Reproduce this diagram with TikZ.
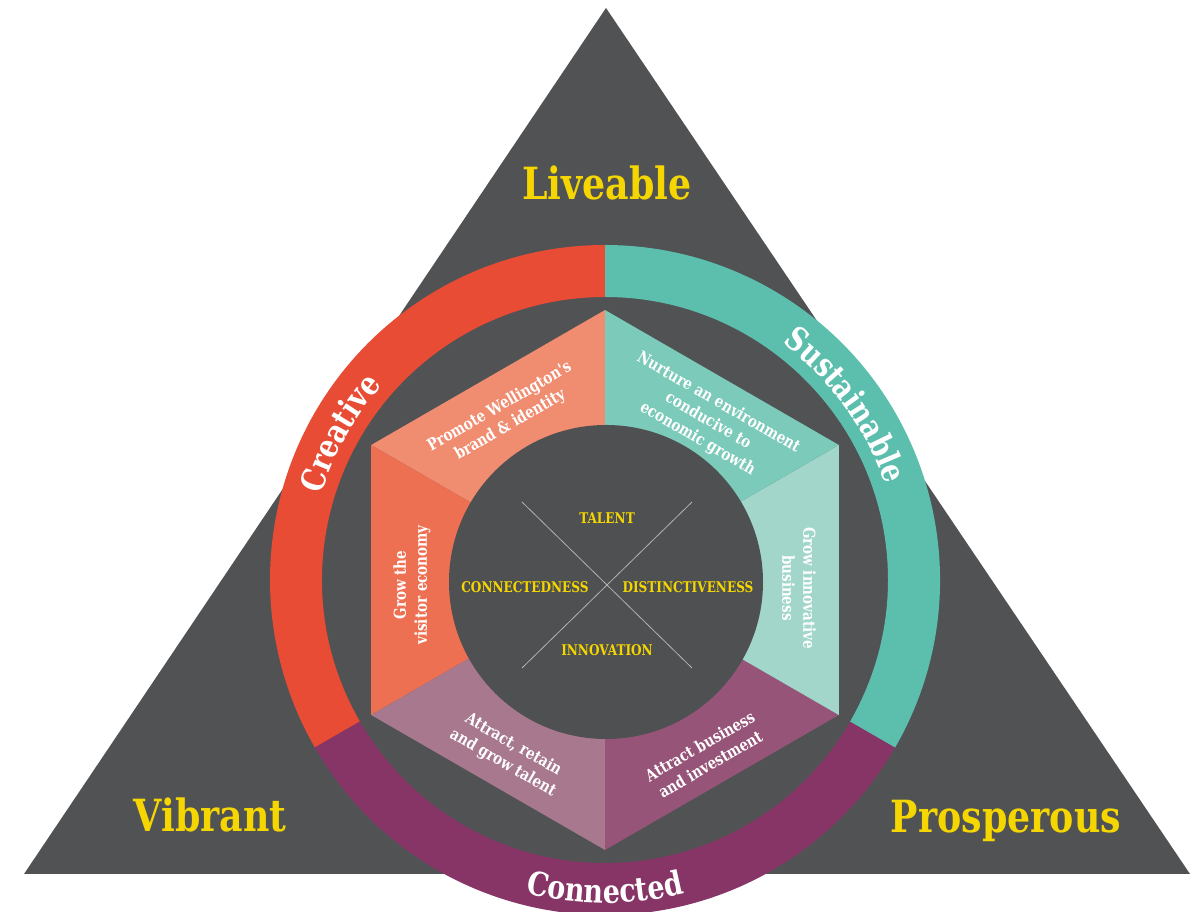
\documentclass[tikz,border=0pt]{standalone}
\usepackage{fontspec}
\newfontfamily\slab{DejaVu Serif}[FakeStretch=0.82]
\usepackage{tikz}
\usetikzlibrary{positioning,decorations.text}
\usepackage{xcolor}

\definecolor{slate}{RGB}{80,82,84}
\definecolor{hubgray}{RGB}{78,80,82}
\definecolor{wellyellow}{RGB}{245,214,0}
\definecolor{creativered}{RGB}{232,76,52}
\definecolor{sustainteal}{RGB}{92,190,172}
\definecolor{connectplum}{RGB}{135,52,102}
\definecolor{promotefill}{RGB}{240,140,112}
\definecolor{visitorfill}{RGB}{238,112,82}
\definecolor{talentfill}{RGB}{168,120,142}
\definecolor{businessfill}{RGB}{150,84,120}
\definecolor{innovfill}{RGB}{162,214,203}
\definecolor{nurturefill}{RGB}{124,202,186}

\newcommand{\ringfont}{\slab\bfseries\fontsize{33}{33}\selectfont}

\tikzset{
  pillar/.style={
    font=\slab\bfseries\fontsize{44.5}{48}\selectfont,
    text=wellyellow,
    anchor=base,
    inner sep=0pt
  },
  goal/.style={
    font=\slab\bfseries\fontsize{16.5}{21}\selectfont,
    text=white,
    align=center,
    inner sep=0pt
  },
  value/.style={
    font=\slab\bfseries\fontsize{14.8}{16}\selectfont,
    text=wellyellow,
    inner sep=0pt
  },
  ringlabel/.style={
    decorate,
    decoration={text along path, text align=center, text color=white}
  },
  xline/.style={draw=gray!60, line width=0.8pt}
}

\begin{document}
\begin{tikzpicture}[x=1bp, y=1bp]
  \useasboundingbox (0,0) rectangle (1194,912);
  \fill[white] (0,0) rectangle (1194,912);

  % Outer triangle
  \coordinate (apex) at (606,904);
  \coordinate (baseL) at (24,38);
  \coordinate (baseR) at (1190,38);
  \fill[slate] (apex) -- (baseL) -- (baseR) -- cycle;

  \node[pillar] (liveable) at (607,712) {Liveable};
  \node[pillar] (vibrant) at (210,80) {Vibrant};
  \node[pillar] (prosperous) at (1006,79) {Prosperous};

  \begin{scope}[shift={(605,332)}]
    % Outer ring
    \fill[creativered] (90:335) arc[start angle=90, end angle=210, radius=335]
      -- (210:283) arc[start angle=210, end angle=90, radius=283] -- cycle;
    \fill[connectplum] (210:335) arc[start angle=210, end angle=330, radius=335]
      -- (330:283) arc[start angle=330, end angle=210, radius=283] -- cycle;
    \fill[sustainteal] (-30:335) arc[start angle=-30, end angle=90, radius=335]
      -- (90:283) arc[start angle=90, end angle=-30, radius=283] -- cycle;

    \path[ringlabel, decoration={text={|\ringfont|Creative}}]
      (178:296) arc[start angle=178, end angle=124, radius=296];
    \path[ringlabel, decoration={text={|\ringfont|Sustainable}}]
      (72:296) arc[start angle=72, end angle=0, radius=296];
    \path[ringlabel, decoration={text={|\ringfont|Connected}}]
      (240:323) arc[start angle=240, end angle=300, radius=323];

    % Hexagon
    \coordinate (hub) at (0,0);
    \coordinate (h30) at (30:270);
    \coordinate (h90) at (90:270);
    \coordinate (h150) at (150:270);
    \coordinate (h210) at (210:270);
    \coordinate (h270) at (270:270);
    \coordinate (h330) at (330:270);
    \fill[promotefill] (hub) -- (h90) -- (h150) -- cycle;
    \fill[visitorfill] (hub) -- (h150) -- (h210) -- cycle;
    \fill[talentfill] (hub) -- (h210) -- (h270) -- cycle;
    \fill[businessfill] (hub) -- (h270) -- (h330) -- cycle;
    \fill[innovfill] (hub) -- (h330) -- (h30) -- cycle;
    \fill[nurturefill] (hub) -- (h30) -- (h90) -- cycle;

    \node[goal, rotate=30] (promote) at (-100,164) {Promote Wellington's\\brand \& identity};
    \node[goal, rotate=-30] (nurture) at (103,159) {Nurture an environment\\conducive to\\economic growth};
    \node[goal, rotate=90] (visitor) at (-193,-5) {Grow the\\visitor economy};
    \node[goal, rotate=-90] (innovative) at (194,-8) {Grow innovative\\business};
    \node[goal, rotate=-30] (attracttalent) at (-97,-174) {Attract, retain\\and grow talent};
    \node[goal, rotate=30] (attractbusiness) at (100,-175) {Attract business\\and investment};

    % Core circle with the four values
    \node[circle, fill=hubgray, minimum size=314bp, inner sep=0pt] (core) at (1,-2) {};
    \coordinate (xa) at (-83,78);
    \coordinate (xb) at (87,-88);
    \coordinate (xc) at (87,78);
    \coordinate (xd) at (-83,-88);
    \draw[xline] (xa) -- (xb);
    \draw[xline] (xc) -- (xd);

    \node[value] (talent) at (2,62) {TALENT};
    \node[value] (connectedness) at (-80,-7) {CONNECTEDNESS};
    \node[value] (distinctiveness) at (83,-7) {DISTINCTIVENESS};
    \node[value] (innovation) at (2,-70) {INNOVATION};
  \end{scope}
\end{tikzpicture}
\end{document}
